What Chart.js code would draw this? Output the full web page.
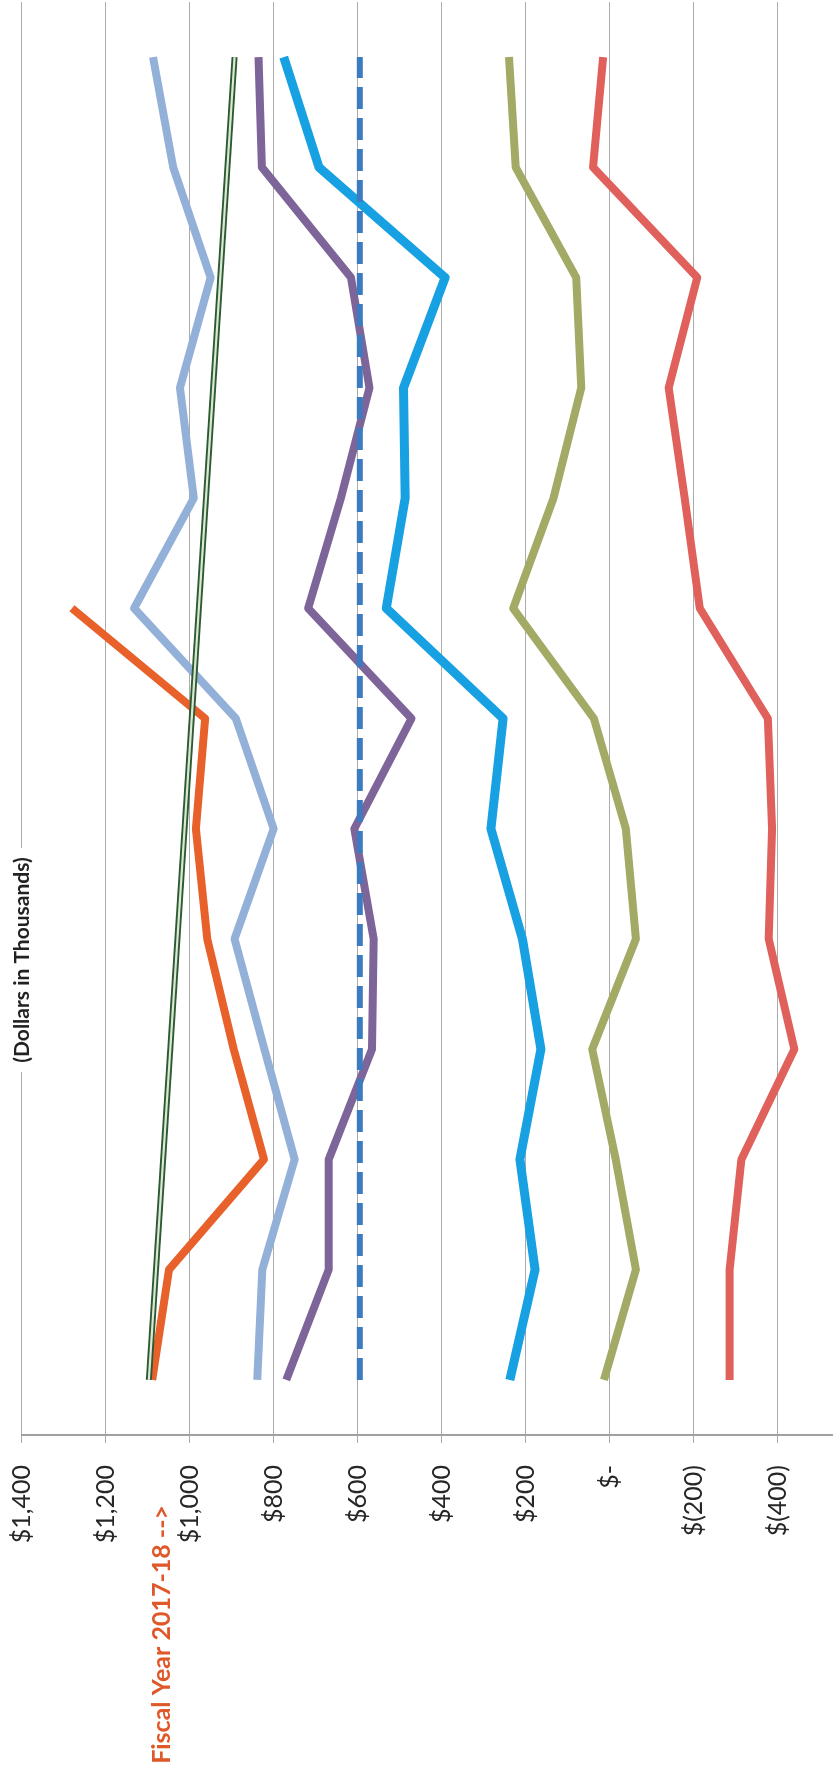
<!DOCTYPE html>
<html>
<head>
<meta charset="utf-8">
<script src="https://cdn.jsdelivr.net/npm/chart.js@4/dist/chart.umd.min.js"></script>
<style>
    html, body { margin: 0; padding: 0; background: #fff; overflow: hidden; }
    #wrap { position: relative; width: 862px; height: 1768px; }
</style>
</head>
<body>
<div id="wrap"><canvas id="chart"></canvas></div>
<script>
// Accounting periods, first period at the bottom of the page
const periods = ['P1', 'P2', 'P3', 'P4', 'P5', 'P6', 'P7', 'P8', 'P9', 'P10', 'P11', 'P12', 'P13'];

// Value axis ticks (dollars in thousands)
const tickValues = [-600, -400, -200, 0, 200, 400, 600, 800, 1000, 1200, 1400];

// Current year runs only part of the way
const fy1718 = [1089, 1049, 823, 895, 958, 985, 963, 1280, null, null, null, null, null];
const steelBlue = [839, 827, 750, 822, 893, 800, 890, 1132, 990, 1023, 950, 1039, 1087];
const purple = [770, 669, 669, 566, 562, 608, 472, 718, 640, 572, 616, 828, 836];
const skyBlue = [238, 178, 214, 164, 208, 283, 254, 532, 487, 491, 392, 692, 776];
const olive = [14, -62, -14, 42, -62, -38, 38, 230, 134, 68, 80, 224, 240];
const salmon = [-285, -285, -313, -439, -378, -386, -376, -214, -178, -140, -208, 40, 16];
const flatLevel = [595, null, null, null, null, null, null, null, null, null, null, null, 595];
const trendEnds = [1097, null, null, null, null, null, null, null, null, null, null, null, 893];

function money(v) {
    if (v === 0) return '$-';
    const s = Math.abs(v).toLocaleString('en-US');
    return v < 0 ? '$(' + s + ')' : '$' + s;
}

// text reading bottom-to-top
function drawUp(ctx, text, x, y, align, font, color) {
    ctx.save();
    ctx.translate(x, y);
    ctx.rotate(-Math.PI / 2);
    ctx.font = font;
    ctx.fillStyle = color;
    ctx.textAlign = align;
    ctx.textBaseline = 'middle';
    ctx.fillText(text, 0, 0);
    ctx.restore();
}

const annotations = {
    id: 'annotations',
    afterDraw(chart) {
        const ctx = chart.ctx;
        // subtitle box sits on top of the left gridline
        ctx.save();
        ctx.fillStyle = '#fff';
        ctx.fillRect(6, 848, 32, 224);
        ctx.restore();
        drawUp(ctx, '(Dollars in Thousands)', 22, 960, 'center', 'bold 21px Lato', '#222222');
        drawUp(ctx, 'Fiscal Year 2017-18 -->', 162, 1505, 'right', 'bold 25px Lato', '#E0582A');
    },
};

const line = (data, color, width, extra = {}) => ({
    data,
    borderColor: color,
    borderWidth: width,
    pointRadius: 0,
    fill: false,
    ...extra,
});

// first dataset is painted on top
new Chart(document.getElementById('chart'), {
    type: 'line',
    data: {
        labels: periods,
        datasets: [
            line(trendEnds, '#DCE8D4', 2.2, { spanGaps: true }),
            line(trendEnds, '#2C5A33', 6, { spanGaps: true }),
            line(fy1718, '#E8602A', 8),
            line(steelBlue, '#93B1D8', 8),
            line(flatLevel, '#3C7BC0', 6, { spanGaps: true, borderDash: [22, 9] }),
            line(purple, '#7D6499', 8),
            line(skyBlue, '#17A0E2', 9),
            line(olive, '#A2AA66', 8),
            line(salmon, '#E0605C', 8),
        ],
    },
    options: {
        indexAxis: 'y',
        responsive: true,
        maintainAspectRatio: false,
        animation: false,
        layout: { padding: { left: 21.5, top: 2, right: 0, bottom: 0 } },
        elements: {
            line: { tension: 0, borderJoinStyle: 'round', borderCapStyle: 'butt' },
        },
        plugins: {
            legend: { display: false },
            tooltip: { enabled: false },
        },
        scales: {
            y: {
                type: 'category',
                reverse: true,
                offset: true,
                display: false,
            },
            x: {
                type: 'linear',
                reverse: true,
                min: -600,
                max: 1400,
                afterBuildTicks: (scale) => {
                    scale.ticks = tickValues.map((value) => ({ value }));
                },
                afterFit: (scale) => {
                    scale.height = 333;
                },
                grid: { color: '#ABABAB', lineWidth: 1, tickLength: 8 },
                border: { display: true, color: '#A0A0A0', width: 2 },
                ticks: {
                    autoSkip: false,
                    minRotation: 90,
                    maxRotation: 90,
                    padding: 22,
                    color: '#262626',
                    font: { family: 'Lato', size: 25 },
                    callback: (v) => money(v),
                },
            },
        },
    },
    plugins: [annotations],
});
</script>
</body>
</html>
